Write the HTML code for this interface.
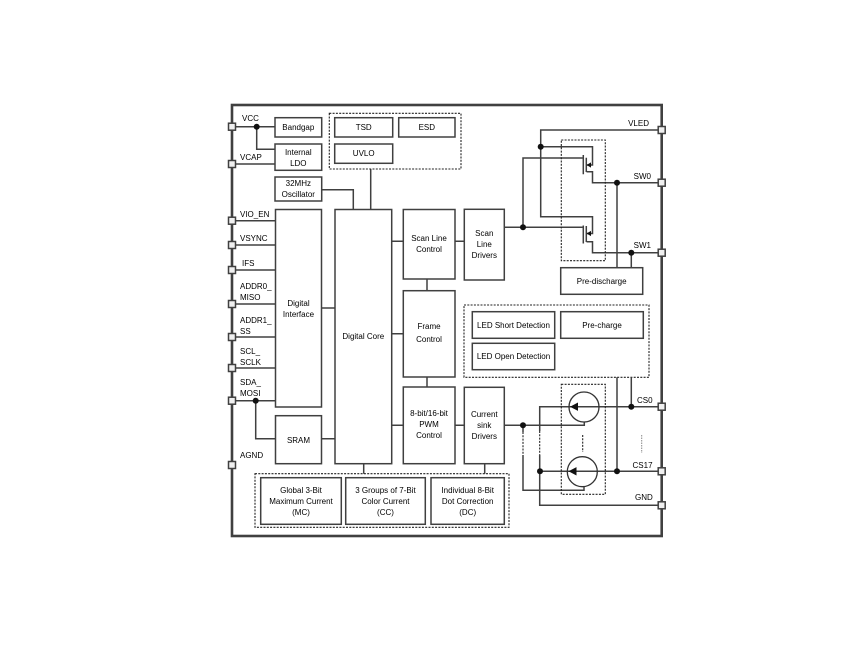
<!DOCTYPE html>
<html><head><meta charset="utf-8"><style>
html,body{margin:0;padding:0;background:#fff}
svg{display:block}
text{font-family:"Liberation Sans",sans-serif;font-size:8px;fill:#000}
.b{fill:#fff;stroke:#404040;stroke-width:1.5}
.w{fill:none;stroke:#404040;stroke-width:1.5}
.d{fill:none;stroke:#222;stroke-width:1.1;stroke-dasharray:2 1.3}
.p{fill:#f0f0f0;stroke:#404040;stroke-width:1.5}
.c text,text.c{text-anchor:middle}
.e{text-anchor:end}
</style></head><body>
<svg width="860" height="668" viewBox="0 0 860 668" xmlns="http://www.w3.org/2000/svg">
<rect x="232" y="105" width="429.7" height="431" fill="#fff" stroke="#404040" stroke-width="2.6"/>

<!-- wires left -->
<path class="w" d="M232 126.7H275M256.7 126.7V149.3H275M232 164H275M232 220.7H275M232 245H275M232 270H275M232 304H275M232 337H275M232 368H275M232 400.7H275M255.7 400.7V438.7H275M321.5 438.7H335M321.5 308H335M321.5 189.7H353.3V209.5M370.7 169V209.5M391.7 241.3H403.3M391.7 333.7H403.3M391.7 425.3H403.3M427 279V290.7M427 377V387M455 241.3H464.3M455 425.3H464.3M363.7 463.7V473.7M484.7 463.7V473.7"/>

<!-- boxes left -->
<rect class="b" x="275" y="117.7" width="46.7" height="19.3"/>
<rect class="b" x="275" y="144" width="46.7" height="26.3"/>
<rect class="b" x="275" y="177" width="46.7" height="24"/>
<rect class="b" x="275.5" y="209.5" width="46" height="197.5"/>
<rect class="b" x="275.5" y="415.7" width="46" height="48"/>
<rect class="b" x="335" y="209.5" width="56.7" height="254.2"/>
<rect class="b" x="403.3" y="209.5" width="51.7" height="69.5"/>
<rect class="b" x="403.3" y="290.7" width="51.7" height="86.3"/>
<rect class="b" x="403.3" y="387" width="51.7" height="76.7"/>
<rect class="b" x="464.3" y="209.3" width="40" height="70.7"/>
<rect class="b" x="464.3" y="387.3" width="40" height="76.4"/>
<rect class="d" x="329.3" y="113.3" width="131.7" height="55.7"/>
<rect class="b" x="334.7" y="117.7" width="58" height="19.3"/>
<rect class="b" x="398.7" y="117.7" width="56.3" height="19.3"/>
<rect class="b" x="334.7" y="144" width="58" height="19.3"/>
<rect class="d" x="255" y="473.7" width="254" height="53.6"/>
<rect class="b" x="260.7" y="477.7" width="80.6" height="46.6"/>
<rect class="b" x="345.7" y="477.7" width="79.6" height="46.6"/>
<rect class="b" x="431" y="477.7" width="73.3" height="46.6"/>
<rect class="d" x="464" y="305" width="185" height="72.3"/>
<rect class="b" x="472.3" y="311.7" width="82.4" height="26.6"/>
<rect class="b" x="560.7" y="311.7" width="82.6" height="26.6"/>
<rect class="b" x="472.3" y="343.3" width="82.4" height="26.4"/>
<rect class="b" x="560.7" y="267.7" width="82" height="26.6"/>

<!-- FET wires -->
<path class="w" d="M661.7 130H540.7V216.7H592.5V233.5H586.5M540.7 146.7H592.5V165H586.5M504.3 227.3H582.7M523 227.3V158H582.7M586.5 171.7H592.5V182.7H661.7M586.5 241.7H592.5V252.7H661.7M617 182.7V267.7M631.3 252.7V267.7"/>
<path fill="none" stroke="#404040" stroke-width="1.5" d="M583.3 155V174.3M586.3 157.7V172M583.3 225.5V243.5M586.3 226V242"/>
<path fill="#111" d="M586.5 165l4.5-2.6v5.2zM586.5 233.5l4.5-2.6v5.2z"/>

<!-- Current sink wires -->
<path class="w" d="M504.3 425.3H584.3V422M661.7 406.7H539.7V431M539.7 455V505.3H661.7M523 425.3V432M523 455V490.3H584V487M661.7 471.3H540M631.3 377.3V406.7M617 377.3V471.3"/>
<path class="d" d="M523 432V455M539.7 431V455M582.7 435V452"/>
<path fill="none" stroke="#888" stroke-width="1" stroke-dasharray="1.5 1" d="M641.7 435V453"/>
<circle cx="584" cy="407" r="15" fill="none" stroke="#333" stroke-width="1.3"/>
<circle cx="582.3" cy="471.7" r="15" fill="none" stroke="#333" stroke-width="1.3"/>
<path fill="#111" d="M570 406.7l8-4.2v8.4zM568.5 471.3l8-4.2v8.4z"/>
<rect class="d" x="561.3" y="140" width="44" height="120.7"/>
<rect class="d" x="561.3" y="384.3" width="44" height="110"/>

<!-- dots -->
<g fill="#111">
<circle cx="256.7" cy="126.7" r="3"/><circle cx="255.7" cy="400.7" r="3"/>
<circle cx="540.7" cy="146.7" r="3"/><circle cx="523" cy="227.3" r="3"/>
<circle cx="617" cy="182.7" r="3"/><circle cx="631.3" cy="252.7" r="3"/>
<circle cx="523" cy="425.3" r="3"/><circle cx="631.3" cy="406.7" r="3"/>
<circle cx="617" cy="471.3" r="3"/><circle cx="540" cy="471.3" r="3"/>
</g>

<!-- pins -->
<g class="p">
<rect x="228.5" y="123.2" width="7" height="7"/><rect x="228.5" y="160.5" width="7" height="7"/>
<rect x="228.5" y="217.2" width="7" height="7"/><rect x="228.5" y="241.5" width="7" height="7"/>
<rect x="228.5" y="266.5" width="7" height="7"/><rect x="228.5" y="300.5" width="7" height="7"/>
<rect x="228.5" y="333.5" width="7" height="7"/><rect x="228.5" y="364.5" width="7" height="7"/>
<rect x="228.5" y="397.2" width="7" height="7"/><rect x="228.5" y="461.5" width="7" height="7"/>
<rect x="658.2" y="126.5" width="7" height="7"/><rect x="658.2" y="179.2" width="7" height="7"/>
<rect x="658.2" y="249.2" width="7" height="7"/><rect x="658.2" y="403.2" width="7" height="7"/>
<rect x="658.2" y="467.8" width="7" height="7"/><rect x="658.2" y="501.8" width="7" height="7"/>
</g>

<!-- pin labels -->
<text x="242" y="121">VCC</text><text x="240" y="160">VCAP</text>
<text x="240" y="217">VIO_EN</text><text x="240" y="241">VSYNC</text>
<text x="242" y="266">IFS</text><text x="240" y="289">ADDR0_</text><text x="240" y="300">MISO</text>
<text x="240" y="323">ADDR1_</text><text x="240" y="334">SS</text>
<text x="240" y="354">SCL_</text><text x="240" y="365">SCLK</text>
<text x="240" y="385">SDA_</text><text x="240" y="396">MOSI</text><text x="240" y="458">AGND</text>
<text class="e" x="649" y="126">VLED</text><text class="e" x="651" y="179">SW0</text><text class="e" x="651" y="248">SW1</text>
<text x="637" y="403">CS0</text><text x="632.5" y="468">CS17</text><text x="635" y="500">GND</text>

<!-- box labels -->
<g class="c">
<text x="298.3" y="130">Bandgap</text>
<text x="298.3" y="155">Internal</text><text x="298.3" y="166">LDO</text>
<text x="298.3" y="186">32MHz</text><text x="298.3" y="197">Oscillator</text>
<text x="298.5" y="306">Digital</text><text x="298.5" y="317">Interface</text>
<text x="298.5" y="443">SRAM</text>
<text x="363.3" y="339">Digital Core</text>
<text x="429" y="241">Scan Line</text><text x="429" y="252">Control</text>
<text x="429" y="329">Frame</text><text x="429" y="342">Control</text>
<text x="429" y="416">8-bit/16-bit</text><text x="429" y="427">PWM</text><text x="429" y="438">Control</text>
<text x="484.3" y="236">Scan</text><text x="484.3" y="247">Line</text><text x="484.3" y="258">Drivers</text>
<text x="484.3" y="417">Current</text><text x="484.3" y="428">sink</text><text x="484.3" y="439">Drivers</text>
<text x="363.7" y="130">TSD</text><text x="426.8" y="130">ESD</text><text x="363.7" y="156">UVLO</text>
<text x="301" y="493">Global 3-Bit</text><text x="301" y="504">Maximum Current</text><text x="301" y="515">(MC)</text>
<text x="385.5" y="493">3 Groups of 7-Bit</text><text x="385.5" y="504">Color Current</text><text x="385.5" y="515">(CC)</text>
<text x="467.7" y="493">Individual 8-Bit</text><text x="467.7" y="504">Dot Correction</text><text x="467.7" y="515">(DC)</text>
<text x="513.5" y="328">LED Short Detection</text>
<text x="513.5" y="359">LED Open Detection</text>
<text x="602" y="328">Pre-charge</text>
<text x="601.7" y="284">Pre-discharge</text>
</g>
</svg>
</body></html>
